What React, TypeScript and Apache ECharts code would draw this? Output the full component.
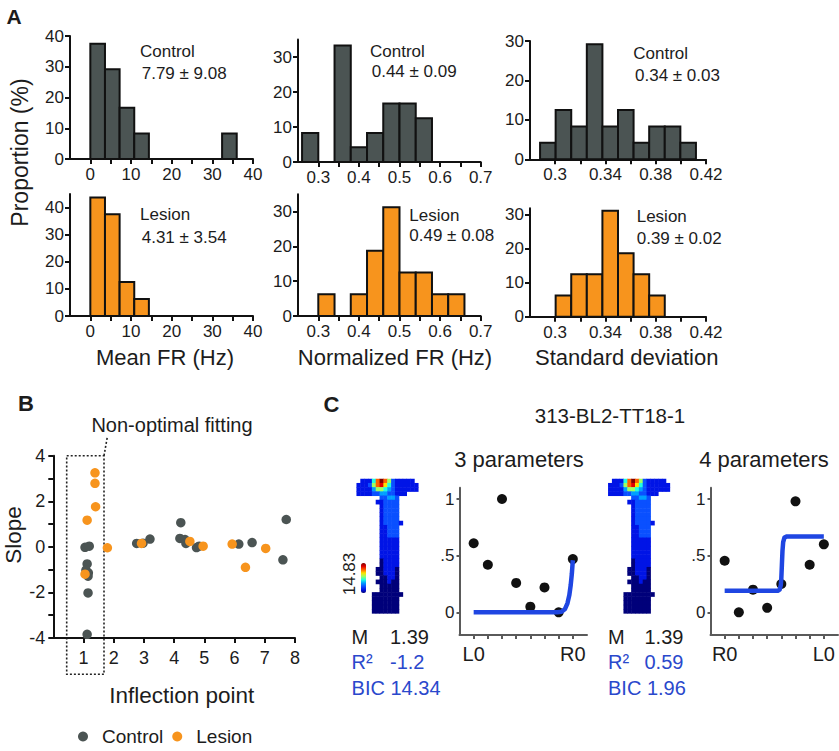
import React, { useEffect, useRef } from 'react';
import * as echarts from 'echarts';

const FONT = "'Liberation Sans', Arial, Helvetica, sans-serif";
const INK = '#1c1c1c';
const GREY = '#4b5453';
const ORANGE = '#f7941d';
const BLUE = '#1f46e2';
const TEXT_BLUE = '#2a48cc';

// ---------- Panel A: histograms (proportion %) ----------
const meanFrEdges = [0, 3.6, 7.2, 10.8, 14.4, 18, 21.6, 25.2, 28.8, 32.4, 36];
const meanFrControl = [37.5, 29.2, 16.7, 8.3, 0, 0, 0, 0, 0, 8.3];
const meanFrLesion = [43.75, 37.5, 12.5, 6.25, 0, 0, 0, 0, 0, 0];

const normFrEdges = [0.26, 0.3, 0.34, 0.38, 0.42, 0.46, 0.5, 0.54, 0.58, 0.62, 0.66];
const normFrControl = [8.3, 0, 33.3, 4.2, 8.3, 16.7, 16.7, 12.5, 0, 0];
const normFrLesion = [0, 6.25, 0, 6.25, 18.75, 31.25, 12.5, 12.5, 6.25, 6.25];

const sdEdges = [0.288, 0.3004, 0.3128, 0.3252, 0.3376, 0.35, 0.3624, 0.3748, 0.3872, 0.3996, 0.412];
const sdControl = [4.2, 12.5, 8.3, 29.2, 8.3, 12.5, 4.2, 8.3, 8.3, 4.2];
const sdLesion = [0, 6.25, 12.5, 12.5, 31.25, 18.75, 12.5, 6.25, 0, 0];

const meanFrTicks = [0, 5, 10, 15, 20, 25, 30, 35, 40];
const meanFrLabels = [0, 10, 20, 30, 40];
const normFrTicks = [0.3, 0.35, 0.4, 0.45, 0.5, 0.55, 0.6, 0.65, 0.7];
const normFrLabels = [0.3, 0.4, 0.5, 0.6, 0.7];
const sdTicks = [0.3, 0.32, 0.34, 0.36, 0.38, 0.4, 0.42];
const sdLabels = [0.3, 0.34, 0.38, 0.42];
const prop40Ticks = [0, 10, 20, 30, 40];
const prop30Ticks = [0, 10, 20, 30];

// ---------- Panel B: slope vs inflection point ----------
const slopeControl = [
  [1.05, -0.02], [1.19, 0.03], [1.12, -0.75], [1.08, -1.02], [1.16, -1.14], [1.15, -1.29],
  [1.15, -2.02], [1.12, -3.84], [2.76, 0.15], [2.97, 0.16], [3.2, 0.34], [4.22, 1.06],
  [4.19, 0.37], [4.36, 0.32], [4.39, 0.15], [4.74, -0.03], [4.83, 0.03], [6.14, 0.12],
  [6.58, 0.19], [7.6, -0.57], [7.71, 1.2],
];
const slopeLesion = [
  [1.38, 3.25], [1.38, 2.79], [1.4, 1.76], [1.12, 1.17], [1.05, -1.2], [1.79, -0.04],
  [2.92, 0.15], [4.52, 0.24], [4.96, 0.03], [5.92, 0.12], [6.36, -0.9], [7.03, -0.07],
];
const inflectionTicks = [1, 2, 3, 4, 5, 6, 7, 8];
const slopeTicks = [-4, -3, -2, -1, 0, 1, 2, 3, 4];
const slopeLabels = [-4, -2, 0, 2, 4];

// ---------- Panel C: rate map + fits ----------
const ratemapRows = [
  '.11147975211111.',
  '1112578642111111',
  '1111355432111111',
  '1111223322111...',
  '......22332.....',
  '.....112222.....',
  '......12222.....',
  '......12222.....',
  '......12222.....',
  '......12222.....',
  '......122221....',
  '......11222.....',
  '......11222.....',
  '......11222.....',
  '......11111.....',
  '......11111.....',
  '......11111.....',
  '......11111.....',
  '......11111.....',
  '......01111.....',
  '......01111.....',
  '.....001110.....',
  '.....001110.....',
  '......00110.....',
  '.....000100.....',
  '......00000.....',
  '......00000.....',
  '....00000000....',
  '....0000000.....',
  '....0000000.....',
  '....0000000.....',
  '....0000000.....',
];
const jetColors = ['#00007a', '#0014e6', '#0a50ff', '#00a0ff', '#20ffe0', '#a0ff60', '#ffe000', '#ff6000', '#e00000', '#800000'];

const positions = [0, 1, 2, 3, 4, 5, 6, 7];
const fit3Dots = [0.61, 0.42, 1.0, 0.26, 0.05, 0.22, 0.0, 0.47];
const fit4Dots = [0.455, 0.0, 0.2, 0.04, 0.25, 0.98, 0.42, 0.6];
const fit3Curve = [[0, 0], [5.9, 0], [6.2, 0.005], [6.45, 0.03], [6.62, 0.08], [6.75, 0.15], [6.85, 0.24], [6.93, 0.34], [7, 0.46]];
const fit4Curve = [[0, 0.19], [3.75, 0.19], [3.88, 0.2], [3.96, 0.24], [4.0, 0.3], [4.04, 0.42], [4.08, 0.54], [4.13, 0.62], [4.22, 0.66], [4.4, 0.67], [7, 0.67]];
const fitYTicks = [0, 0.5, 1];
const fitXTicks = [0, 1, 2, 3, 4, 5, 6, 7];
const fitXLabels = [0, 7];

function histSeries(axis: number, edges: number[], heights: number[], color: string) {
  const data = heights
    .map((h, i) => [edges[i], edges[i + 1], h])
    .filter((d) => d[2] > 0);
  return {
    type: 'custom',
    xAxisIndex: axis,
    yAxisIndex: axis,
    data,
    encode: { x: [0, 1], y: 2 },
    silent: true,
    renderItem: (_p: any, api: any) => {
      const tl = api.coord([api.value(0), api.value(2)]);
      const br = api.coord([api.value(1), 0]);
      return {
        type: 'rect',
        shape: { x: tl[0], y: tl[1], width: br[0] - tl[0], height: br[1] - tl[1] },
        style: { fill: color, stroke: '#111', lineWidth: 2 },
      };
    },
  };
}

function valueAxis(grid: number, min: number, max: number, ticks: number[], labels: number[], opts: any = {}) {
  const color = opts.color || '#111';
  return {
    type: 'value',
    gridIndex: grid,
    min,
    max,
    splitLine: { show: false },
    axisLine: { show: true, onZero: false, lineStyle: { color, width: opts.lineWidth || 2 } },
    axisTick: { show: true, customValues: ticks, length: opts.tickLen || 5, lineStyle: { color, width: opts.lineWidth || 2 } },
    axisLabel: {
      customValues: labels,
      fontSize: opts.fontSize || 17,
      fontFamily: FONT,
      color: INK,
      margin: opts.margin || 7,
      formatter: opts.formatter || ((v: number) => String(+v.toFixed(2))),
    },
  };
}

function txt(text: string, x: number, y: number, size: number, o: any = {}) {
  return {
    type: 'text',
    x,
    y,
    rotation: o.rot || 0,
    silent: true,
    style: {
      text,
      fontSize: size,
      fontFamily: FONT,
      fontWeight: o.bold ? 'bold' : 'normal',
      fill: o.color || INK,
      align: o.align || 'left',
      verticalAlign: 'middle',
    },
  };
}

function buildOption() {
  const grids = [
    { left: 70, top: 36, width: 183, height: 123 },
    { left: 298, top: 39.5, width: 182.7, height: 122.5 },
    { left: 530, top: 41, width: 176, height: 118.3 },
    { left: 70, top: 194, width: 183, height: 122 },
    { left: 298, top: 194.2, width: 182.7, height: 121.8 },
    { left: 530, top: 208.2, width: 176, height: 108.5 },
    { left: 53.3, top: 455.7, width: 241.7, height: 182.3 },
    { left: 356.7, top: 479, width: 61.6, height: 134.4 },
    { left: 459.5, top: 487.7, width: 127.5, height: 147.3 },
    { left: 608.3, top: 479, width: 61.6, height: 134.4 },
    { left: 710.5, top: 487.7, width: 127.5, height: 147.3 },
  ];

  const mapCols = ratemapRows[0].split('').map((_, i) => String(i));
  const mapRowsCat = ratemapRows.map((_, i) => String(i));
  const mapData: number[][] = [];
  ratemapRows.forEach((row, r) => {
    row.split('').forEach((ch, c) => {
      if (ch !== '.') mapData.push([c, r, Number(ch)]);
    });
  });

  const fitYFmt = (v: number) => (v === 0 ? '0' : v === 1 ? '1' : '.5');
  const cOpts = { color: '#5a5a5a', lineWidth: 2, tickLen: 4 };

  const xAxis: any[] = [
    valueAxis(0, -5, 40, meanFrTicks, meanFrLabels),
    valueAxis(1, 0.25, 0.7, normFrTicks, normFrLabels),
    valueAxis(2, 0.28, 0.42, sdTicks, sdLabels),
    valueAxis(3, -5, 40, meanFrTicks, meanFrLabels),
    valueAxis(4, 0.25, 0.7, normFrTicks, normFrLabels),
    valueAxis(5, 0.28, 0.42, sdTicks, sdLabels),
    valueAxis(6, 0, 8, inflectionTicks, inflectionTicks, { fontSize: 18, margin: 11 }),
    { type: 'category', gridIndex: 7, data: mapCols, show: false },
    valueAxis(8, -1, 8, fitXTicks, fitXLabels, { ...cOpts, fontSize: 20, margin: 9, formatter: (v: number) => (v === 0 ? 'L0' : 'R0') }),
    { type: 'category', gridIndex: 9, data: mapCols, show: false },
    valueAxis(10, -1, 8, fitXTicks, fitXLabels, { ...cOpts, fontSize: 20, margin: 9, formatter: (v: number) => (v === 0 ? 'R0' : 'L0') }),
  ];
  const yAxis: any[] = [
    valueAxis(0, 0, 40, prop40Ticks, prop40Ticks, { margin: 6 }),
    valueAxis(1, 0, 35, prop30Ticks, prop30Ticks, { margin: 6 }),
    valueAxis(2, 0, 30, prop30Ticks, prop30Ticks, { margin: 6 }),
    valueAxis(3, 0, 45, prop40Ticks, prop40Ticks, { margin: 6 }),
    valueAxis(4, 0, 35, prop30Ticks, prop30Ticks, { margin: 6 }),
    valueAxis(5, 0, 32, prop30Ticks, prop30Ticks, { margin: 6 }),
    valueAxis(6, -4, 4, slopeTicks, slopeLabels, { fontSize: 18, margin: 8 }),
    { type: 'category', gridIndex: 7, data: mapRowsCat, inverse: true, show: false },
    valueAxis(8, -0.2, 1.1, fitYTicks, fitYTicks, { ...cOpts, fontSize: 17, margin: 5, tickLen: 3, formatter: fitYFmt }),
    { type: 'category', gridIndex: 9, data: mapRowsCat, inverse: true, show: false },
    valueAxis(10, -0.2, 1.1, fitYTicks, fitYTicks, { ...cOpts, fontSize: 17, margin: 5, tickLen: 3, formatter: fitYFmt }),
  ];

  const series: any[] = [
    histSeries(0, meanFrEdges, meanFrControl, GREY),
    histSeries(1, normFrEdges, normFrControl, GREY),
    histSeries(2, sdEdges, sdControl, GREY),
    histSeries(3, meanFrEdges, meanFrLesion, ORANGE),
    histSeries(4, normFrEdges, normFrLesion, ORANGE),
    histSeries(5, sdEdges, sdLesion, ORANGE),
    { name: 'Control', type: 'scatter', xAxisIndex: 6, yAxisIndex: 6, data: slopeControl, symbolSize: 9.5, itemStyle: { color: GREY, opacity: 1 } },
    { name: 'Lesion', type: 'scatter', xAxisIndex: 6, yAxisIndex: 6, data: slopeLesion, symbolSize: 9.5, itemStyle: { color: ORANGE, opacity: 1 } },
    { type: 'heatmap', xAxisIndex: 7, yAxisIndex: 7, data: mapData, silent: true },
    { type: 'heatmap', xAxisIndex: 9, yAxisIndex: 9, data: mapData, silent: true },
    { type: 'line', xAxisIndex: 8, yAxisIndex: 8, data: fit3Curve, symbol: 'none', lineStyle: { color: BLUE, width: 4.5, join: 'round' }, silent: true },
    { type: 'scatter', xAxisIndex: 8, yAxisIndex: 8, data: positions.map((p, i) => [p, fit3Dots[i]]), symbolSize: 10, itemStyle: { color: '#111', opacity: 1 } },
    { type: 'line', xAxisIndex: 10, yAxisIndex: 10, data: fit4Curve, symbol: 'none', lineStyle: { color: BLUE, width: 4.5, join: 'round' }, silent: true },
    { type: 'scatter', xAxisIndex: 10, yAxisIndex: 10, data: positions.map((p, i) => [p, fit4Dots[i]]), symbolSize: 10, itemStyle: { color: '#111', opacity: 1 } },
  ];

  const dash = { stroke: '#222', lineWidth: 1.6, lineDash: [2, 2], fill: 'none' };
  const graphic: any[] = [
    txt('A', 14, 16, 21, { bold: true, align: 'center' }),
    txt('B', 26, 403, 22, { bold: true, align: 'center' }),
    txt('C', 331.5, 404, 22, { bold: true, align: 'center' }),
    txt('Proportion (%)', 20, 152.5, 23, { rot: Math.PI / 2, align: 'center' }),
    txt('Control', 140, 51.7, 17),
    txt('7.79 ± 9.08', 141.7, 73.3, 17),
    txt('Control', 370, 51.7, 17),
    txt('0.44 ± 0.09', 371.7, 71.5, 17),
    txt('Control', 633.3, 53.3, 17),
    txt('0.34 ± 0.03', 635, 75, 17),
    txt('Lesion', 140, 214.3, 17),
    txt('4.31 ± 3.54', 141.7, 237.7, 17),
    txt('Lesion', 409.3, 215, 17),
    txt('0.49 ± 0.08', 409.3, 235, 17),
    txt('Lesion', 636.7, 216, 17),
    txt('0.39 ± 0.02', 636.7, 238.3, 17),
    txt('Mean FR (Hz)', 165, 357, 22, { align: 'center' }),
    txt('Normalized FR (Hz)', 395, 357, 22, { align: 'center' }),
    txt('Standard deviation', 626.7, 357, 22, { align: 'center' }),
    txt('Non-optimal fitting', 172, 425, 20, { align: 'center' }),
    txt('Slope', 13, 535, 22.5, { rot: Math.PI / 2, align: 'center' }),
    txt('Inflection point', 181.7, 695, 22.5, { align: 'center' }),
    { type: 'rect', silent: true, shape: { x: 66.7, y: 455.7, width: 37.3, height: 218.6 }, style: dash },
    { type: 'line', silent: true, shape: { x1: 104, y1: 455.7, x2: 107.5, y2: 436 }, style: dash },
    txt('313-BL2-TT18-1', 610, 415, 20.5, { align: 'center' }),
    txt('3 parameters', 519, 459, 22, { align: 'center' }),
    txt('4 parameters', 764, 459, 22, { align: 'center' }),
    txt('14.83', 349, 574, 17, { rot: Math.PI / 2, align: 'center' }),
    txt('M', 351.6, 636.5, 20),
    txt('1.39', 390, 636.5, 20),
    txt('R²', 351.6, 661.5, 20, { color: TEXT_BLUE }),
    txt('-1.2', 390, 661.5, 20, { color: TEXT_BLUE }),
    txt('BIC 14.34', 351.6, 688, 20, { color: TEXT_BLUE }),
    txt('M', 608, 636.5, 20),
    txt('1.39', 644.5, 636.5, 20),
    txt('R²', 608, 661.5, 20, { color: TEXT_BLUE }),
    txt('0.59', 644.5, 661.5, 20, { color: TEXT_BLUE }),
    txt('BIC 1.96', 608, 688, 20, { color: TEXT_BLUE }),
  ];

  return {
    animation: false,
    backgroundColor: '#ffffff',
    grid: grids,
    xAxis,
    yAxis,
    series,
    visualMap: {
      type: 'continuous',
      seriesIndex: [8, 9],
      min: 0,
      max: 9,
      calculable: false,
      show: true,
      orient: 'vertical',
      left: 361,
      top: 563,
      itemWidth: 5,
      itemHeight: 30,
      padding: 0,
      inRange: { color: jetColors },
      text: null,
      hoverLink: false,
    },
    legend: {
      data: ['Control', 'Lesion'],
      left: 78,
      top: 727,
      padding: 0,
      itemWidth: 28,
      itemHeight: 10,
      itemGap: 9,
      icon: 'circle',
      selectedMode: false,
      textStyle: { fontSize: 19, fontFamily: FONT, color: INK },
    },
    graphic,
  };
}

export default function App() {
  const ref = useRef<HTMLDivElement>(null);
  useEffect(() => {
    if (!ref.current) return;
    const chart = echarts.init(ref.current, null, { renderer: 'svg' });
    chart.setOption(buildOption() as any);
    return () => chart.dispose();
  }, []);
  return (
    <div
      ref={ref}
      style={{ position: 'fixed', left: 0, top: 0, width: 839, height: 751, background: '#fff' }}
    />
  );
}
